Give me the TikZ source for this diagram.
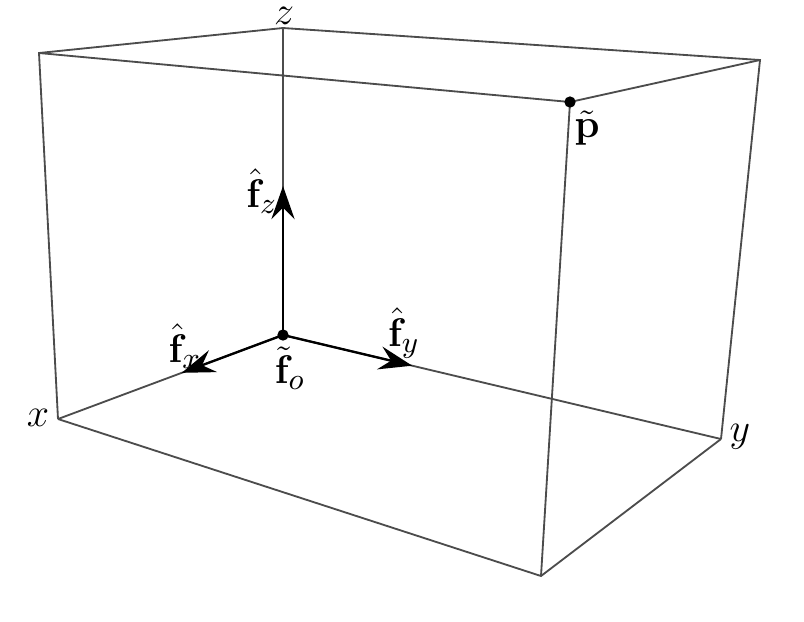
\documentclass[tikz,border=0pt]{standalone}
\usetikzlibrary{arrows.meta,calc}
\begin{document}
\begin{tikzpicture}[x=0.3pt,y=-0.3pt,
  edge/.style={draw=black!70,line width=0.55pt},
  vec/.style={draw=black,line width=0.7pt,-{Stealth[length=10pt,width=7pt,inset=3.5pt]}},
  lbl/.style={font=\fontsize{12.5}{15}\selectfont,inner sep=1pt},
  dot/.style={circle,fill=black,inner sep=0pt,minimum size=3.4pt}]
\useasboundingbox (0,0) rectangle (804,621);
\coordinate (O) at (283,335);
\coordinate (X) at (58,419);
\coordinate (Y) at (721,439);
\coordinate (Z) at (283,28);
\coordinate (XZ) at (39,53);
\coordinate (YZ) at (760,60);
\coordinate (P) at (570,102);
\coordinate (XY) at (541,576);
\draw[edge] (O) -- (X);
\draw[edge] (O) -- (Y);
\draw[edge] (O) -- (Z);
\draw[edge] (X) -- (XZ) -- (Z) -- (YZ) -- (Y);
\draw[edge] (X) -- (XY) -- (Y);
\draw[edge] (XZ) -- (P) -- (YZ);
\draw[edge] (XY) -- (P);
\coordinate (tx) at ($(O)!0.45!(X)$);
\coordinate (ty) at ($(O)!0.295!(Y)$);
\coordinate (tz) at (283,186);
\draw[vec] (O) -- (tx);
\draw[vec] (O) -- (ty);
\draw[vec] (O) -- (tz);
\node[dot] (o) at (O) {};
\node[dot] (p) at (P) {};
\node[lbl] (lx) at (38,418) {$x$};
\node[lbl] (ly) at (740,437) {$y$};
\node[lbl,inner sep=0pt] (lz) at (284,16) {$z$};
\node[lbl] (lfx) at (185,346) {$\hat{\mathbf{f}}_x$};
\node[lbl] (lfy) at (404,333) {$\hat{\mathbf{f}}_y$};
\node[lbl] (lfz) at (262,191) {$\hat{\mathbf{f}}_z$};
\node[lbl] (lfo) at (290,368) {$\tilde{\mathbf{f}}_o$};
\node[lbl] (lp) at (587,128) {$\tilde{\mathbf{p}}$};
\end{tikzpicture}
\end{document}
